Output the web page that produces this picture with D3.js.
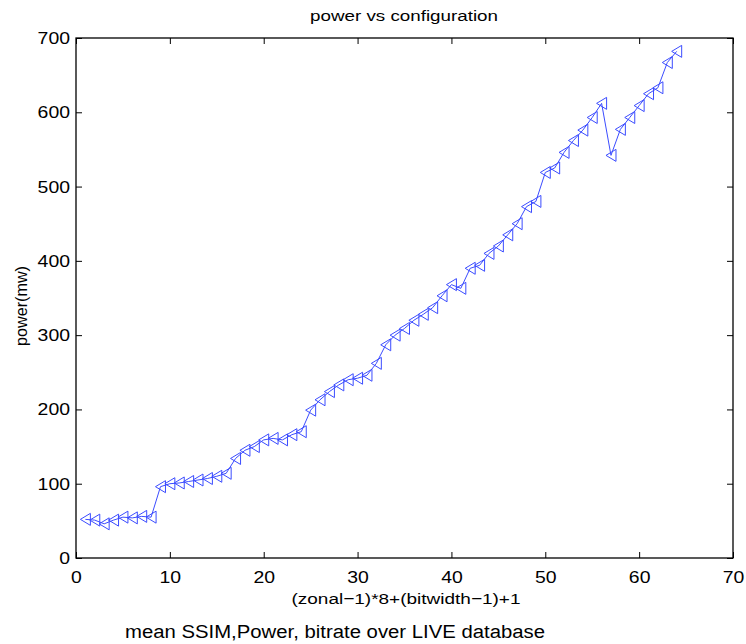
<!DOCTYPE html>
<html>
<head>
<meta charset="utf-8">
<script src="https://cdn.jsdelivr.net/npm/d3@7"></script>
<style>
  html, body { margin: 0; padding: 0; background: #fff; }
  svg { display: block; font-family: "Liberation Sans", Arial, sans-serif; }
</style>
</head>
<body>
<svg id="chart" width="746" height="644"></svg>
<script>
// configuration index: (zonal-1)*8 + (bitwidth-1) + 1
const configIndex = d3.range(1, 65);
// mean power (mW) for each configuration
const powerMw = [
  52, 51, 46, 51, 55, 54, 56, 55,
  96, 100, 101, 103, 105, 107, 110, 114,
  134, 145, 150, 159, 161, 159, 166, 170,
  199, 213, 224, 233, 240, 242, 246, 262,
  287, 300, 309, 320, 328, 337, 353, 368,
  363, 390, 394, 410, 420, 435, 450, 473,
  480, 519, 525, 546, 562, 576, 593, 612,
  542, 577, 593, 609, 625, 633, 667, 682
];
const xTicks = [0, 10, 20, 30, 40, 50, 60, 70];
const yTicks = [0, 100, 200, 300, 400, 500, 600, 700];

const titleText = "power vs configuration";
const xLabelText = "(zonal\u22121)*8+(bitwidth\u22121)+1";
const yLabelText = "power(mw)";
const footerText = "mean SSIM,Power, bitrate over LIVE database";

const svg = d3.select("#chart");
const plotLeft = 76, plotRight = 733, plotTop = 38, plotBottom = 558;

const x = d3.scaleLinear().domain([0, 70]).range([plotLeft, plotRight]);
const y = d3.scaleLinear().domain([0, 700]).range([plotBottom, plotTop]);

const lineColor = "#3b4cff";
const tickLen = 6;

// axes with inward ticks (bottom/left labelled, top/right bare)
const gx = svg.append("g").attr("transform", `translate(0,${plotBottom})`)
  .call(d3.axisBottom(x).tickValues(xTicks).tickSizeInner(-tickLen).tickSizeOuter(0).tickPadding(13));
const gy = svg.append("g").attr("transform", `translate(${plotLeft},0)`)
  .call(d3.axisLeft(y).tickValues(yTicks).tickSizeInner(-tickLen).tickSizeOuter(0).tickPadding(6));
const gxt = svg.append("g").attr("transform", `translate(0,${plotTop})`)
  .call(d3.axisTop(x).tickValues(xTicks).tickSizeInner(-tickLen).tickSizeOuter(0).tickFormat(""));
const gyr = svg.append("g").attr("transform", `translate(${plotRight},0)`)
  .call(d3.axisRight(y).tickValues(yTicks).tickSizeInner(-tickLen).tickSizeOuter(0).tickFormat(""));

[gx, gy, gxt, gyr].forEach(g => {
  g.select(".domain").remove();
  g.selectAll(".tick line").attr("stroke", "#000").attr("stroke-width", 1);
  g.selectAll(".tick text")
    .attr("fill", "#000")
    .attr("font-size", 17)
    .attr("lengthAdjust", "spacingAndGlyphs")
    .attr("textLength", function () { return this.textContent.length * 10.8; });
});

// plot frame
svg.append("rect")
  .attr("x", plotLeft).attr("y", plotTop)
  .attr("width", plotRight - plotLeft).attr("height", plotBottom - plotTop)
  .attr("fill", "none").attr("stroke", "#000").attr("stroke-width", 1.3);

const pts = configIndex.map((c, i) => [c, powerMw[i]]);

// connecting line
svg.append("path")
  .datum(pts)
  .attr("fill", "none")
  .attr("stroke", lineColor)
  .attr("stroke-width", 1)
  .attr("d", d3.line().x(d => x(d[0])).y(d => y(d[1])));

// left-pointing triangle markers
const tri = "M-5,0 L5,-6 L5,6 Z";
svg.append("g").selectAll("path")
  .data(pts)
  .join("path")
  .attr("transform", d => `translate(${x(d[0])},${y(d[1])})`)
  .attr("d", tri)
  .attr("fill", "none")
  .attr("stroke", lineColor)
  .attr("stroke-width", 1);

// text
function label(txt, px, py, size, width, rot) {
  const t = svg.append("text")
    .attr("text-anchor", "middle")
    .attr("font-size", size)
    .attr("lengthAdjust", "spacingAndGlyphs")
    .attr("textLength", width)
    .text(txt);
  if (rot) t.attr("transform", `translate(${px},${py}) rotate(${rot})`);
  else t.attr("x", px).attr("y", py);
  return t;
}

label(titleText, 404, 21, 15.5, 188);
label(xLabelText, 406, 604, 15.5, 229);
label(yLabelText, 27, 306, 16, 80, -90);
label(footerText, 335, 638, 18, 420);
</script>
</body>
</html>
